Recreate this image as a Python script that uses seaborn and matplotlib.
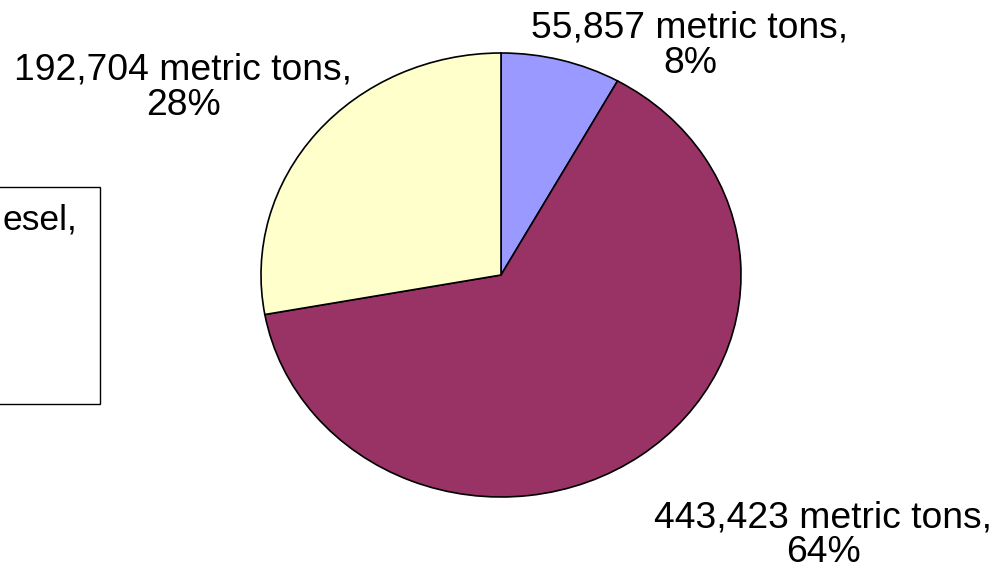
import matplotlib
matplotlib.use("Agg")
import matplotlib.pyplot as plt
import matplotlib.patches as mpatches
import seaborn as sns

# data
fuels = ["Fuel A", "Fuel B", "Fuel C"]
tons = [55857, 443423, 192704]
shares = [8, 64, 28]
colors = ["#9999FF", "#993366", "#FFFFCC"]
legend_text = "esel,"  # only the visible tail of the legend entry

sns.set_style("white")
plt.rcParams["font.family"] = ["Liberation Sans", "DejaVu Sans"]
plt.rcParams["text.color"] = "black"

fig = plt.figure(figsize=(10.06, 5.68), dpi=100)
W, H = 1006, 568

# pie is slightly squashed in the original, so no equal aspect
cx, cy, rx, ry = 501, 275, 240, 222
ax = fig.add_axes([(cx - rx) / W, (H - cy - ry) / H, 2 * rx / W, 2 * ry / H])
ax.pie(tons, colors=colors, startangle=90, counterclock=False,
       wedgeprops={"edgecolor": "black", "linewidth": 1.2})
ax.set_xlim(-1, 1)
ax.set_ylim(-1, 1)
ax.set_aspect("auto")
ax.axis("off")

labels = [f"{t:,} metric tons,\n{s}%" for t, s in zip(tons, shares)]
label_pos = [(690, 46), (823, 535), (183, 88)]
for lab, (x, y) in zip(labels, label_pos):
    fig.text(x / W, 1 - y / H, lab, ha="center", va="center",
             fontsize=26.8, linespacing=1.0, color="black")

# legend box, cut off at the left edge
rect = mpatches.Rectangle((-0.2, 1 - 404 / H), 0.2 + 100 / W, (404 - 187) / H,
                          transform=fig.transFigure, fill=False,
                          edgecolor="black", linewidth=1.0)
fig.add_artist(rect)
fig.text(2 / W, 1 - 220 / H, legend_text, ha="left", va="center",
         fontsize=25.5, color="black")

plt.savefig("out.png", dpi=100)
